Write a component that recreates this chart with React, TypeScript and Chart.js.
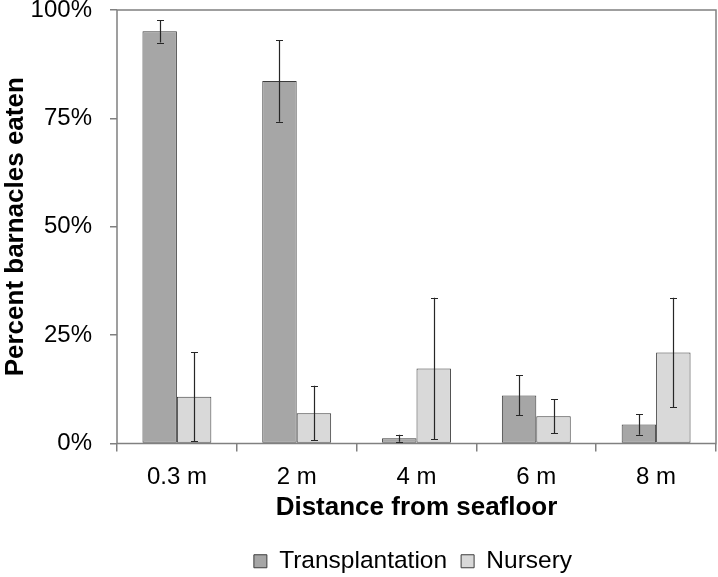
import React, { useEffect, useRef } from 'react';
import { Chart, registerables } from 'chart.js';

Chart.register(...registerables);

const categories = ['0.3 m', '2 m', '4 m', '6 m', '8 m'];
const transplantation = [95.1, 83.6, 1.2, 11.1, 4.4];
const transplantationErr = [2.6, 9.4, 0.8, 4.6, 2.4];
const nursery = [10.8, 7.0, 17.3, 6.3, 21.0];
const nurseryErr = [10.2, 6.3, 16.3, 3.9, 12.6];
const yTickValues = [0, 25, 50, 75, 100];
const seriesNames = ['Transplantation', 'Nursery'];

const FONT = "'Liberation Sans', Arial, Helvetica, sans-serif";
const LEGEND_TOP = 535;

const chartPlugin = {
  id: 'customDecor',
  afterLayout(chart: any) {
    const lg = chart.legend;
    const ca = chart.chartArea;
    if (!lg || !ca) return;
    const h = lg.bottom - lg.top;
    lg.left = ca.left;
    lg.right = ca.right - 7;
    lg.top = LEGEND_TOP;
    lg.bottom = LEGEND_TOP + h;
  },
  afterDatasetsDraw(chart: any) {
    const ctx = chart.ctx;
    const ca = chart.chartArea;
    const yScale = chart.scales.y;
    ctx.save();
    // frame
    ctx.strokeStyle = '#808080';
    ctx.lineWidth = 1.5;
    ctx.strokeRect(ca.left, ca.top, ca.right - ca.left, ca.bottom - ca.top);
    // error bars
    const errs = [transplantationErr, nurseryErr];
    ctx.strokeStyle = '#262626';
    ctx.lineWidth = 1.2;
    chart.data.datasets.forEach((ds: any, i: number) => {
      const meta = chart.getDatasetMeta(i);
      meta.data.forEach((bar: any, j: number) => {
        const v = ds.data[j];
        const e = errs[i][j];
        const x = Math.round(bar.x) + 0.5;
        const yt = yScale.getPixelForValue(v + e);
        const yb = yScale.getPixelForValue(Math.max(0, v - e));
        ctx.beginPath();
        ctx.moveTo(x, yt);
        ctx.lineTo(x, yb);
        ctx.moveTo(x - 3.5, Math.round(yt) + 0.5);
        ctx.lineTo(x + 3.5, Math.round(yt) + 0.5);
        ctx.moveTo(x - 3.5, Math.round(yb) + 0.5);
        ctx.lineTo(x + 3.5, Math.round(yb) + 0.5);
        ctx.stroke();
      });
    });
    ctx.restore();
  },
};

export default function App() {
  const ref = useRef<HTMLCanvasElement | null>(null);

  useEffect(() => {
    if (!ref.current) return;
    const chart = new Chart(ref.current, {
      type: 'bar',
      data: {
        labels: categories,
        datasets: [
          {
            label: seriesNames[0],
            data: transplantation,
            backgroundColor: '#a6a6a6',
            borderColor: '#3c3c3c',
            borderWidth: 1,
            borderSkipped: false,
            categoryPercentage: 0.575,
            barPercentage: 1.0,
          },
          {
            label: seriesNames[1],
            data: nursery,
            backgroundColor: '#d9d9d9',
            borderColor: '#3c3c3c',
            borderWidth: 1,
            borderSkipped: false,
            categoryPercentage: 0.575,
            barPercentage: 1.0,
          },
        ],
      },
      options: {
        responsive: false,
        animation: false,
        devicePixelRatio: 1,
        layout: {
          autoPadding: false,
          padding: { top: 10, right: 2, bottom: 5, left: 0 },
        },
        plugins: {
          tooltip: { enabled: false },
          legend: {
            position: 'bottom',
            labels: {
              color: '#000000',
              font: { family: FONT, size: 24.5 },
              boxWidth: 13,
              boxHeight: 13,
              padding: 14,
            },
          },
        },
        scales: {
          x: {
            offset: true,
            grid: {
              offset: true,
              drawOnChartArea: false,
              drawTicks: true,
              tickLength: 8,
              color: '#808080',
              lineWidth: 1.5,
            },
            border: { display: false },
            ticks: {
              color: '#000000',
              font: { family: FONT, size: 24 },
              padding: 11,
              maxRotation: 0,
            },
            title: {
              display: true,
              text: 'Distance from seafloor',
              color: '#000000',
              font: { family: FONT, size: 26, weight: 'bold' },
              padding: 0,
            },
            afterFit: (s: any) => {
              s.height = 80;
              s.paddingLeft = 0;
              s.paddingRight = 0;
            },
          },
          y: {
            min: 0,
            max: 100,
            afterBuildTicks: (s: any) => {
              s.ticks = yTickValues.map((v) => ({ value: v }));
            },
            grid: {
              drawOnChartArea: false,
              drawTicks: true,
              tickLength: 7,
              color: '#808080',
              lineWidth: 1.5,
            },
            border: { display: false },
            ticks: {
              color: '#000000',
              font: { family: FONT, size: 24 },
              padding: 18,
              callback: (v: any) => v + '%',
            },
            title: {
              display: true,
              text: 'Percent barnacles eaten',
              color: '#000000',
              font: { family: FONT, size: 26, weight: 'bold' },
              padding: 0,
            },
            afterFit: (s: any) => {
              s.width = 117;
              s.paddingTop = 0;
              s.paddingBottom = 0;
            },
          },
        },
      },
      plugins: [chartPlugin],
    } as any);
    return () => chart.destroy();
  }, []);

  return (
    <div style={{ position: 'absolute', left: 0, top: 0, width: 718, height: 577, background: '#ffffff' }}>
      <canvas ref={ref} width={718} height={577} />
    </div>
  );
}
